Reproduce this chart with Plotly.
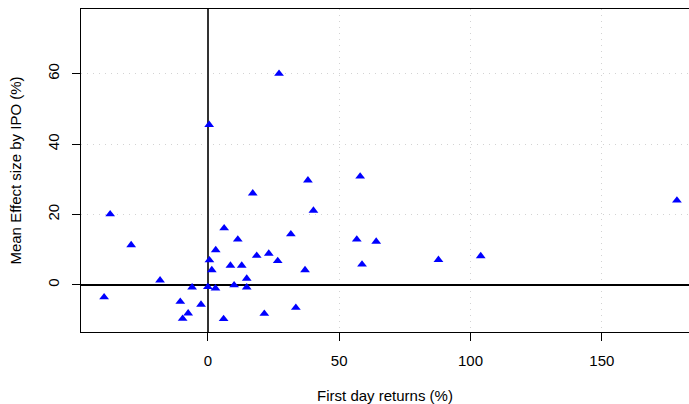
import plotly.graph_objects as go

# First-day IPO returns (%) and the mean effect size per IPO (%)
first_day_returns = [
    -39.5, -37.2, -29.2, -18.2, -10.5, -9.6, -7.5, -6.0, -2.6, 0.0,
    0.5, 0.6, 1.5, 2.9, 3.0, 6.2, 6.0, 8.6, 10.0, 11.4,
    12.9, 14.8, 14.8, 17.1, 18.6, 21.5, 23.2, 26.6, 27.1, 31.6,
    33.5, 37.0, 38.1, 40.2, 56.7, 58.0, 58.7, 64.1, 87.8, 103.9,
    178.6,
]
mean_effect_size = [
    -3.5, 20.1, 11.3, 1.3, -4.8, -9.6, -8.1, -0.7, -5.6, -0.6,
    45.5, 7.0, 4.2, -1.0, 9.9, 16.1, -9.7, 5.5, -0.1, 12.9,
    5.5, 1.8, -0.7, 26.0, 8.3, -8.2, 8.9, 6.8, 60.0, 14.4,
    -6.5, 4.2, 29.7, 21.1, 12.9, 30.8, 5.8, 12.3, 7.1, 8.2,
    24.0,
]

x_ticks = [0, 50, 100, 150]
y_ticks = [0, 20, 40, 60]

font_family = "Liberation Sans, Arial, Helvetica, sans-serif"
grid_dash = "1px,5px"

fig = go.Figure()
fig.add_trace(go.Scatter(
    x=first_day_returns,
    y=mean_effect_size,
    mode="markers",
    marker=dict(symbol="triangle-up", size=8.5, color="#0000FF", line=dict(width=0)),
    showlegend=False,
))

fig.update_layout(
    width=689,
    height=404,
    margin=dict(l=81, r=0, t=9, b=72),
    paper_bgcolor="white",
    plot_bgcolor="white",
    font=dict(family=font_family, size=15, color="black"),
)

fig.update_xaxes(
    range=[-48.3, 183.2],
    tickvals=x_ticks,
    ticktext=[str(v) for v in x_ticks],
    ticks="outside",
    ticklen=8,
    tickwidth=1,
    tickcolor="black",
    ticklabelstandoff=7,
    showline=True,
    linecolor="black",
    linewidth=1,
    mirror=True,
    showgrid=True,
    gridcolor="#D3D3D3",
    griddash=grid_dash,
    gridwidth=1,
    zeroline=True,
    zerolinecolor="#333333",
    zerolinewidth=2,
    tickfont=dict(size=15),
    title=dict(text="First day returns (%)", font=dict(size=15), standoff=22),
)

fig.update_yaxes(
    range=[-13.4, 78.4],
    tickvals=y_ticks,
    ticktext=[str(v) for v in y_ticks],
    tickangle=-90,
    ticks="outside",
    ticklen=8,
    tickwidth=1,
    tickcolor="black",
    ticklabelstandoff=7,
    showline=True,
    linecolor="black",
    linewidth=1,
    showgrid=True,
    gridcolor="#D3D3D3",
    griddash=grid_dash,
    gridwidth=1,
    zeroline=True,
    zerolinecolor="black",
    zerolinewidth=1.5,
    tickfont=dict(size=15),
    title=dict(text="Mean Effect size by IPO (%)", font=dict(size=15), standoff=19),
)

fig.write_html("out.html")
